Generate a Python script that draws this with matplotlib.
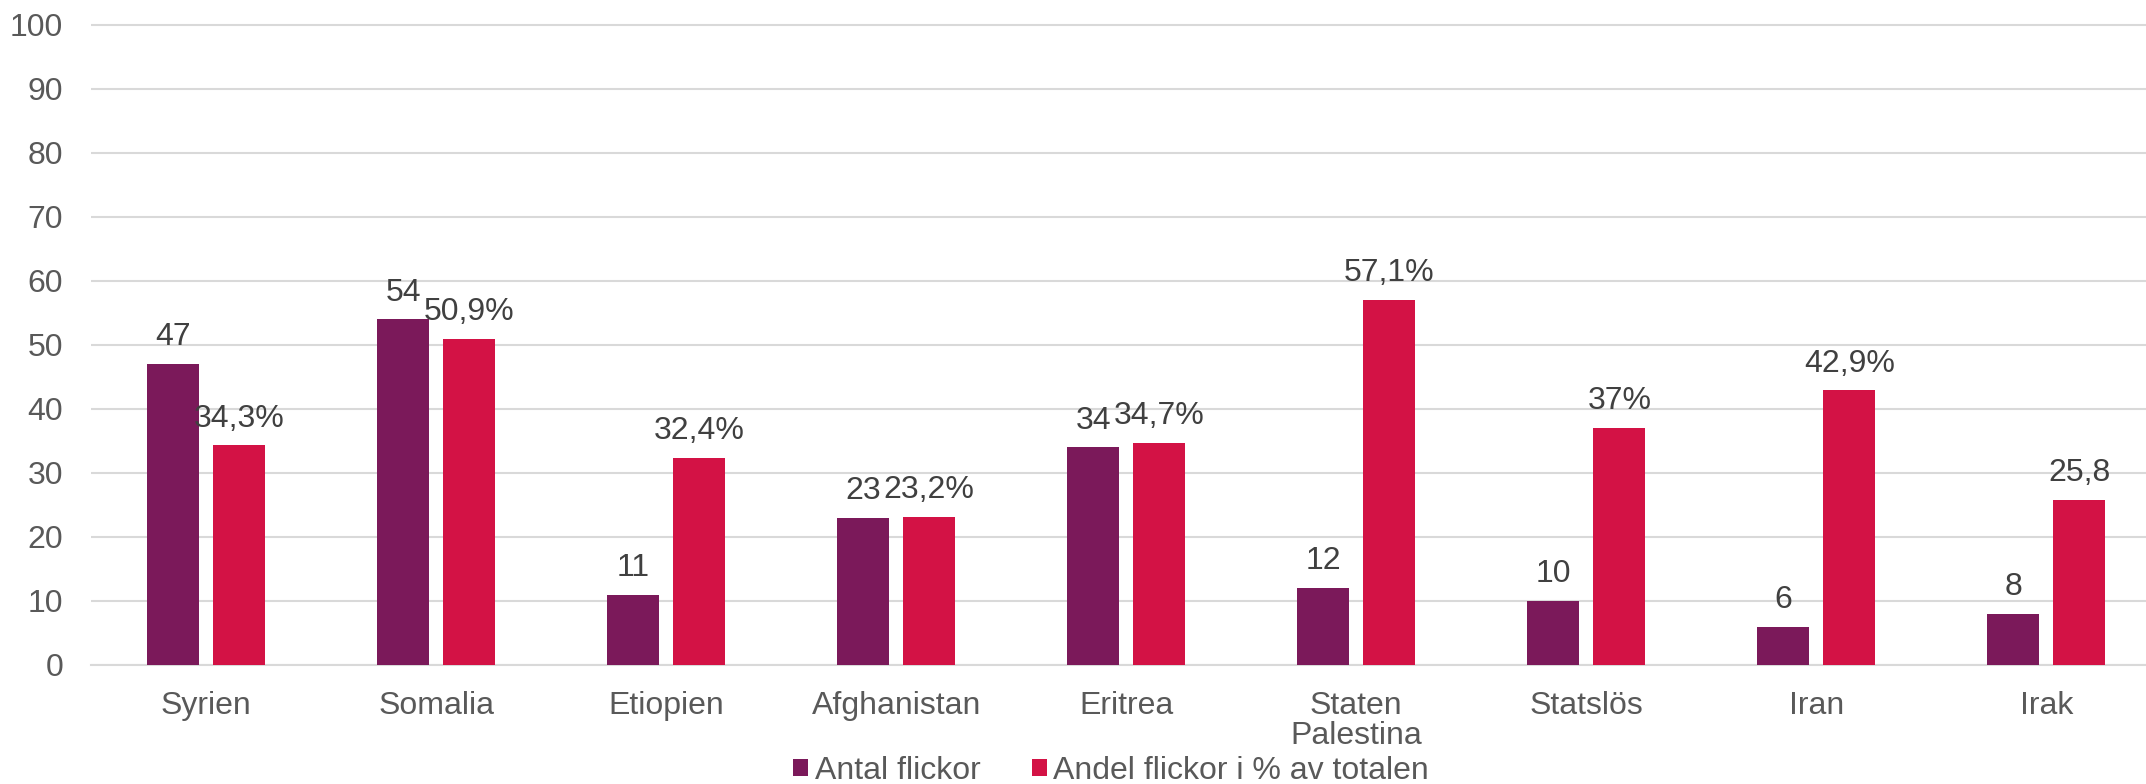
import matplotlib.pyplot as plt
import numpy as np

plt.rcParams['font.family'] = ['Liberation Sans', 'DejaVu Sans']

countries = ["Syrien", "Somalia", "Etiopien", "Afghanistan", "Eritrea",
             "Staten\nPalestina", "Statslös", "Iran", "Irak"]
antal = [47, 54, 11, 23, 34, 12, 10, 6, 8]
andel = [34.3, 50.9, 32.4, 23.2, 34.7, 57.1, 37, 42.9, 25.8]
antal_labels = ["47", "54", "11", "23", "34", "12", "10", "6", "8"]
andel_labels = ["34,3%", "50,9%", "32,4%", "23,2%", "34,7%", "57,1%", "37%", "42,9%", "25,8"]
yticks = [0, 10, 20, 30, 40, 50, 60, 70, 80, 90, 100]

c_antal = "#7B195A"
c_andel = "#D31245"
grid_c = "#D9D9D9"
tick_c = "#595959"
lab_c = "#404040"
fs = 23

fig = plt.figure(figsize=(21.46, 7.84), dpi=100)
# y=0 at 665 px from top, y=100 at 25 px from top
ymax = 101
h = 640 / 100 * ymax
ax = fig.add_axes([91 / 2146, 119 / 784, 2070.5 / 2146, h / 784])

x = np.arange(len(countries))
w = 0.226
off = 0.1435
b1 = ax.bar(x - off, antal, w, color=c_antal, label="Antal flickor", zorder=3)
b2 = ax.bar(x + off, andel, w, color=c_andel, label="Andel flickor i % av totalen", zorder=3)

for rects, labs in ((b1, antal_labels), (b2, andel_labels)):
    for r, s in zip(rects, labs):
        ax.annotate(s, (r.get_x() + r.get_width() / 2, r.get_height()),
                    xytext=(0, 13.5), textcoords="offset points",
                    ha="center", va="baseline", fontsize=fs, color=lab_c, zorder=4)

ax.set_xlim(-0.5, len(countries) - 0.5)
ax.set_ylim(0, ymax)
ax.set_yticks(yticks)
ax.set_yticklabels([str(v) for v in yticks])
ax.set_xticks(x)
ax.set_xticklabels(countries, linespacing=1.0)
ax.tick_params(axis="y", length=0, pad=20, labelsize=fs, labelcolor=tick_c)
ax.tick_params(axis="x", length=0, pad=19, labelsize=fs, labelcolor=tick_c)
ax.yaxis.grid(True, color=grid_c, linewidth=1.5, zorder=0)
ax.set_axisbelow(True)
for sp in ("top", "right", "left"):
    ax.spines[sp].set_visible(False)
ax.spines["bottom"].set_color(grid_c)
ax.spines["bottom"].set_linewidth(1.5)

leg = fig.legend(loc="center", bbox_to_anchor=(1111 / 2146, 1 - 771 / 784), ncol=2,
                 frameon=False, fontsize=fs, handlelength=0.47, handleheight=0.47,
                 handletextpad=0.2, columnspacing=1.6, borderaxespad=0, borderpad=0)
for t in leg.get_texts():
    t.set_color(tick_c)

fig.savefig("out.png", dpi=100)
